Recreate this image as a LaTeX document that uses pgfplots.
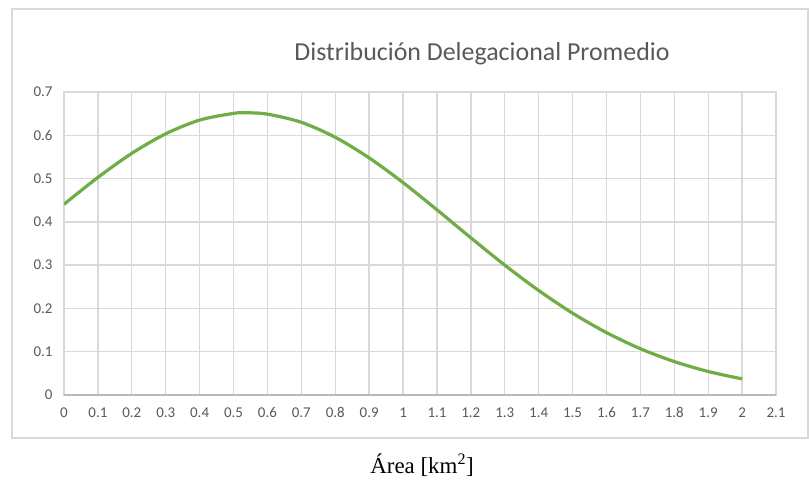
\documentclass[border=0pt]{standalone}
\usepackage{pgfplots}
\pgfplotsset{compat=1.18}
\usepackage{fontspec}
\setmainfont{Carlito}
\newfontfamily\timesf{Liberation Serif}
\definecolor{gridc}{HTML}{D9D9D9}
\definecolor{txt}{HTML}{595959}
\definecolor{curve}{HTML}{70AD47}
\begin{document}
\begin{tikzpicture}[x=1bp,y=1bp]
\useasboundingbox (-64,-85) rectangle (745,395);
\fill[white] (-64,-85) rectangle (745,395);
\draw[gridc, line width=1.5bp] (-52,-43) rectangle (744,386);
\begin{axis}[
  at={(0,0)}, anchor=south west,
  scale only axis, width=712bp, height=303bp,
  xmin=0, xmax=2.1, ymin=0, ymax=0.7,
  xtick={0,0.1,0.2,0.3,0.4,0.5,0.6,0.7,0.8,0.9,1,1.1,1.2,1.3,1.4,1.5,1.6,1.7,1.8,1.9,2,2.1},
  ytick={0,0.1,0.2,0.3,0.4,0.5,0.6,0.7},
  grid=major,
  major grid style={gridc, line width=1.3bp},
  axis line style={gridc, line width=1.3bp},
  major tick length=0pt,
  /pgf/number format/assume math mode=true,
  /pgf/number format/fixed,
  tick label style={font=\fontsize{15}{18}\selectfont, text=txt},
  yticklabel style={xshift=-8bp},
  xticklabel style={yshift=-9bp},
]
\addplot[curve, line width=3.2bp, smooth] coordinates {
(0,0.4406) (0.1,0.5027) (0.2,0.5583) (0.3,0.6034) (0.4,0.6351) (0.5,0.6506)
(0.54,0.652) (0.6,0.6489) (0.7,0.6300) (0.8,0.5954) (0.9,0.5478) (1.0,0.4907)
(1.1,0.4278) (1.2,0.3631) (1.3,0.3000) (1.4,0.2414) (1.5,0.1890) (1.6,0.1441)
(1.7,0.1069) (1.8,0.0772) (1.9,0.0543) (2.0,0.0372)
};
\end{axis}
\draw[gray!55, line width=1.3bp] (0,0) -- (712,0);
\node[text=txt, font=\fontsize{26}{31}\selectfont] at (418,341) {Distribución Delegacional Promedio};
\node[font=\timesf\fontsize{23}{27}\selectfont] at (358,-70) {Área [km\textsuperscript{2}]};
\end{tikzpicture}
\end{document}
